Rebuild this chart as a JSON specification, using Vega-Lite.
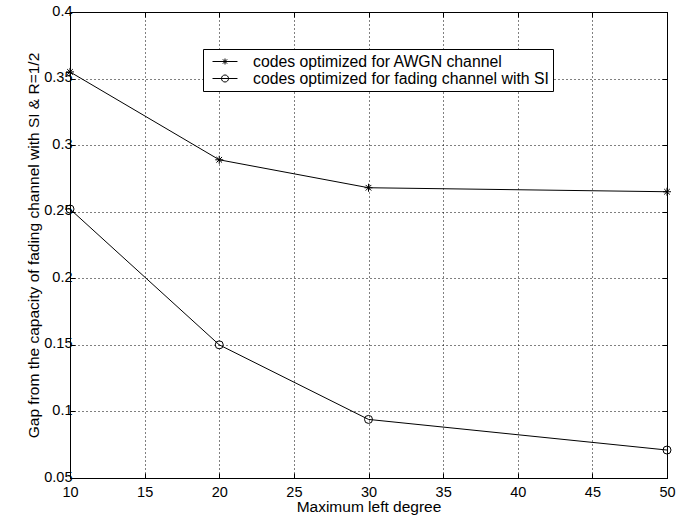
{
  "$schema": "https://vega.github.io/schema/vega-lite/v6.json",
  "width": 597,
  "height": 466,
  "autosize": {"type": "none"},
  "padding": {"left": 70, "top": 12, "right": 20, "bottom": 42},
  "background": "white",
  "config": {
    "font": "Liberation Sans",
    "view": {"stroke": "black", "strokeWidth": 1},
    "axis": {
      "domainColor": "black",
      "tickColor": "black",
      "labelColor": "black",
      "titleColor": "black",
      "labelFont": "Liberation Sans",
      "titleFont": "Liberation Sans",
      "labelFontSize": 14.5,
      "titleFontSize": 15.5,
      "titleFontWeight": "normal",
      "gridColor": "black",
      "gridDash": [1, 3],
      "gridOpacity": 1,
      "gridWidth": 1
    }
  },
  "data": {
    "values": [
      {"series": "AWGN", "degree": 10, "gap": 0.355},
      {"series": "AWGN", "degree": 20, "gap": 0.289},
      {"series": "AWGN", "degree": 30, "gap": 0.268},
      {"series": "AWGN", "degree": 50, "gap": 0.265},
      {"series": "Fading", "degree": 10, "gap": 0.252},
      {"series": "Fading", "degree": 20, "gap": 0.150},
      {"series": "Fading", "degree": 30, "gap": 0.094},
      {"series": "Fading", "degree": 50, "gap": 0.071}
    ]
  },
  "layer": [
    {
      "mark": {"type": "line", "color": "black", "strokeWidth": 1},
      "encoding": {
        "x": {
          "field": "degree", "type": "quantitative",
          "scale": {"domain": [10, 50], "nice": false},
          "axis": {
            "values": [10, 15, 20, 25, 30, 35, 40, 45, 50],
            "title": "Maximum left degree",
            "grid": true,
            "tickSize": -5,
            "labelPadding": 12,
            "titlePadding": 1,
            "labelFlush": false
          }
        },
        "y": {
          "field": "gap", "type": "quantitative",
          "scale": {"domain": [0.05, 0.4], "nice": false, "zero": false},
          "axis": {
            "values": [0.05, 0.1, 0.15, 0.2, 0.25, 0.3, 0.35, 0.4],
            "format": ".2~f",
            "title": "Gap from the capacity of fading channel with SI & R=1/2",
            "grid": true,
            "tickSize": -5,
            "labelPadding": 3,
            "labelOffset": -1,
            "titlePadding": 2,
            "labelFlush": false
          }
        },
        "detail": {"field": "series"}
      }
    },
    {
      "mark": {"type": "point", "filled": false, "color": "black", "strokeWidth": 1, "size": 64, "opacity": 1},
      "encoding": {
        "x": {
          "field": "degree", "type": "quantitative",
          "axis": {"orient": "top", "values": [10, 15, 20, 25, 30, 35, 40, 45, 50], "labels": false, "title": null, "grid": false, "tickSize": -5}
        },
        "y": {
          "field": "gap", "type": "quantitative",
          "axis": {"orient": "right", "values": [0.05, 0.1, 0.15, 0.2, 0.25, 0.3, 0.35, 0.4], "labels": false, "title": null, "grid": false, "tickSize": -5}
        },
        "shape": {
          "field": "series", "type": "nominal",
          "scale": {
            "domain": ["AWGN", "Fading"],
            "range": ["M-1,0L1,0M0,-1L0,1M-0.7,-0.7L0.7,0.7M-0.7,0.7L0.7,-0.7", "circle"]
          },
          "legend": null
        }
      }
    },
    {
      "transform": [{"filter": "false"}],
      "mark": {"type": "point", "filled": false, "color": "black", "strokeWidth": 1, "opacity": 1},
      "encoding": {
        "x": {"field": "degree", "type": "quantitative", "axis": null},
        "y": {"field": "gap", "type": "quantitative", "axis": null},
        "shape": {
          "field": "series", "type": "nominal",
          "scale": {
            "domain": ["AWGN", "Fading"],
            "range": [
              "M-1.56,0L1.56,0M-0.375,0L0.375,0M0,-0.375L0,0.375M-0.27,-0.27L0.27,0.27M-0.27,0.27L0.27,-0.27",
              "M-1.56,0L1.56,0M0.44,0A0.44,0.44,0,1,1,-0.44,0A0.44,0.44,0,1,1,0.44,0"
            ]
          },
          "legend": {
            "orient": "none",
            "legendX": 133,
            "legendY": 37,
            "title": null,
            "direction": "vertical",
            "fillColor": "white",
            "strokeColor": "black",
            "padding": 4,
            "rowPadding": 0,
            "symbolSize": 256,
            "symbolOffset": 9.5,
            "symbolStrokeColor": "black",
            "symbolStrokeWidth": 1,
            "symbolFillColor": "transparent",
            "labelFont": "Liberation Sans",
            "labelFontSize": 15.8,
            "labelColor": "black",
            "labelOffset": 19.5,
            "labelExpr": "datum.value === 'AWGN' ? 'codes optimized for AWGN channel' : 'codes optimized for fading channel with SI'",
            "labelLimit": 500
          }
        }
      }
    }
  ],
  "resolve": {"axis": {"x": "independent", "y": "independent"}, "scale": {"shape": "independent"}}
}
